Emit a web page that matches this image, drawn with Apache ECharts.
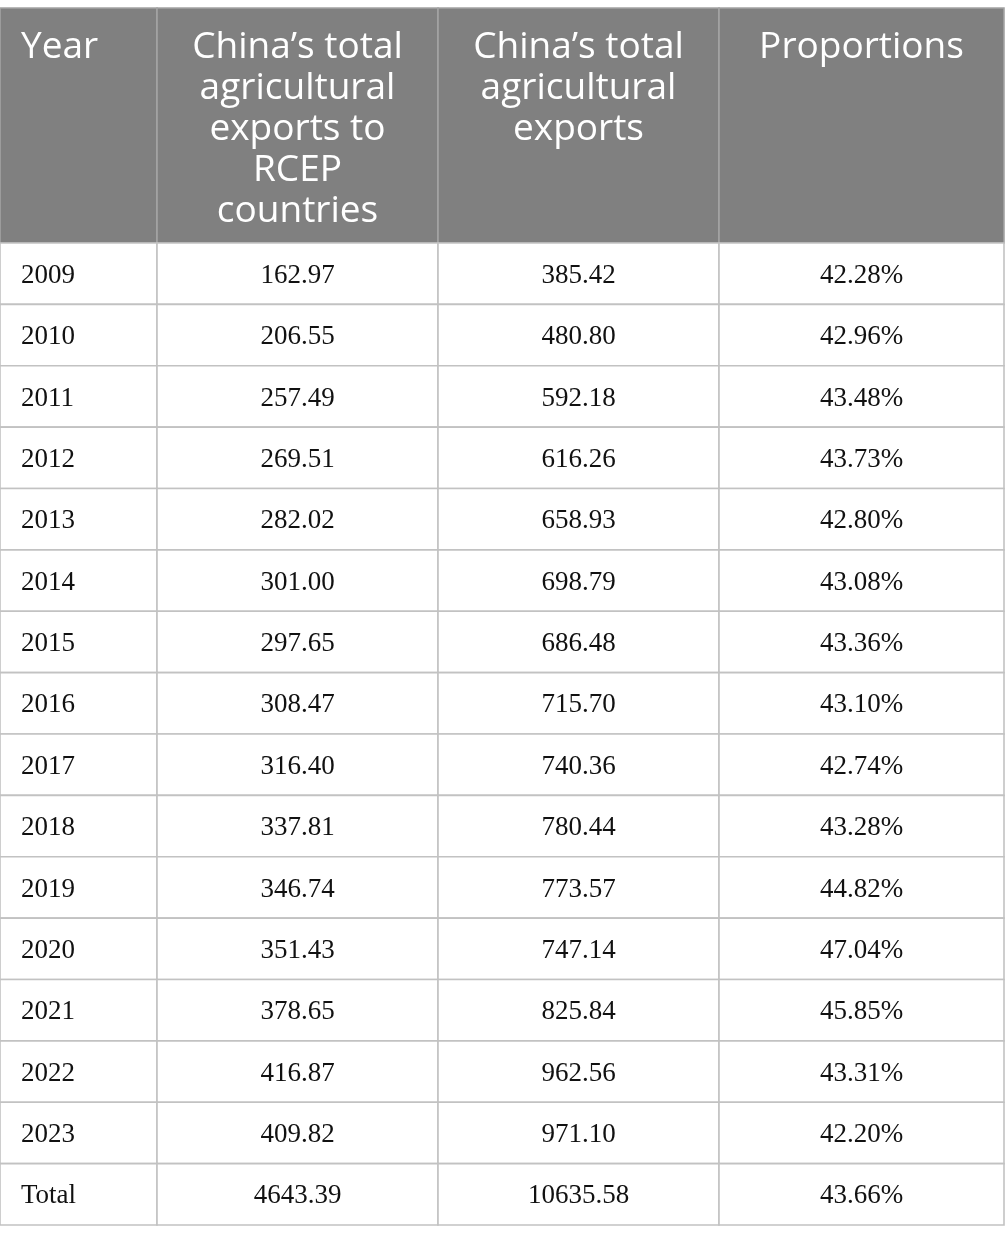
<!DOCTYPE html>
<html>
<head>
<meta charset="utf-8">
<script src="https://cdn.jsdelivr.net/npm/echarts@6/dist/echarts.min.js"></script>
<style>html,body{margin:0;padding:0;background:#fff;}#c{width:1005px;height:1244px;}</style>
</head>
<body>
<div id="c"></div>
<script>
const headers = ['Year', 'China\u2019s total\nagricultural\nexports to\nRCEP\ncountries', 'China\u2019s total\nagricultural\nexports', 'Proportions'];
const years = ['2009','2010','2011','2012','2013','2014','2015','2016','2017','2018','2019','2020','2021','2022','2023','Total'];
const rcepExports = [162.97,206.55,257.49,269.51,282.02,301.00,297.65,308.47,316.40,337.81,346.74,351.43,378.65,416.87,409.82,4643.39];
const totalExports = [385.42,480.80,592.18,616.26,658.93,698.79,686.48,715.70,740.36,780.44,773.57,747.14,825.84,962.56,971.10,10635.58];
const proportions = [42.28,42.96,43.48,43.73,42.80,43.08,43.36,43.10,42.74,43.28,44.82,47.04,45.85,43.31,42.20,43.66];

// layout (column boundaries in table units)
const colEdges = [0, 157, 438, 719, 1004];

const headerCells = headers.map((t, c) => ({ value: [c, 0], text: t }));
const bodyCells = [];
years.forEach((y, r) => {
  bodyCells.push({ value: [0, r], text: y });
  bodyCells.push({ value: [1, r], text: rcepExports[r].toFixed(2) });
  bodyCells.push({ value: [2, r], text: totalExports[r].toFixed(2) });
  bodyCells.push({ value: [3, r], text: proportions[r].toFixed(2) + '%' });
});

function makeRenderer(cells, isHeader) {
  return function (params, api) {
    const c = api.value(0), r = api.value(1);
    const p0 = api.coord([colEdges[c], r]);
    const p1 = api.coord([colEdges[c + 1], r]);
    const h = api.size([0, 1])[1];
    const x0 = p0[0], x1 = p1[0], y0 = p0[1] - h / 2;
    const txt = cells[params.dataIndex].text;
    const left = c === 0;
    return {
      type: 'group',
      children: [
        { type: 'rect', shape: { x: x0, y: y0, width: x1 - x0, height: h },
          style: { fill: isHeader ? '#808080' : '#ffffff', stroke: isHeader ? '#a3a3a3' : '#c2c2c2', lineWidth: 1.6 } },
        { type: 'text',
          style: {
            text: txt,
            x: left ? x0 + 21 : (x0 + x1) / 2,
            y: isHeader ? y0 + 19 : y0 + h / 2 + 2,
            align: left ? 'left' : 'center',
            verticalAlign: isHeader ? 'top' : 'middle',
            fill: isHeader ? '#ffffff' : '#111111',
            font: isHeader ? '37px "Open Sans"' : '27px "Liberation Serif"',
            lineHeight: 41
          } }
      ]
    };
  };
}

const chart = echarts.init(document.getElementById('c'), null, { renderer: 'canvas' });
chart.setOption({
  animation: false,
  grid: [
    { left: 0, top: 8, width: 1004, height: 235 },
    { left: 0, top: 243, width: 1004, height: 982 }
  ],
  xAxis: [
    { gridIndex: 0, type: 'value', min: 0, max: 1004, show: false },
    { gridIndex: 1, type: 'value', min: 0, max: 1004, show: false }
  ],
  yAxis: [
    { gridIndex: 0, type: 'category', data: ['header'], show: false },
    { gridIndex: 1, type: 'category', data: years, inverse: true, show: false }
  ],
  series: [
    { type: 'custom', xAxisIndex: 0, yAxisIndex: 0, clip: false, renderItem: makeRenderer(headerCells, true), data: headerCells.map(d => d.value) },
    { type: 'custom', xAxisIndex: 1, yAxisIndex: 1, clip: false, renderItem: makeRenderer(bodyCells, false), data: bodyCells.map(d => d.value) }
  ]
});
</script>
</body>
</html>
